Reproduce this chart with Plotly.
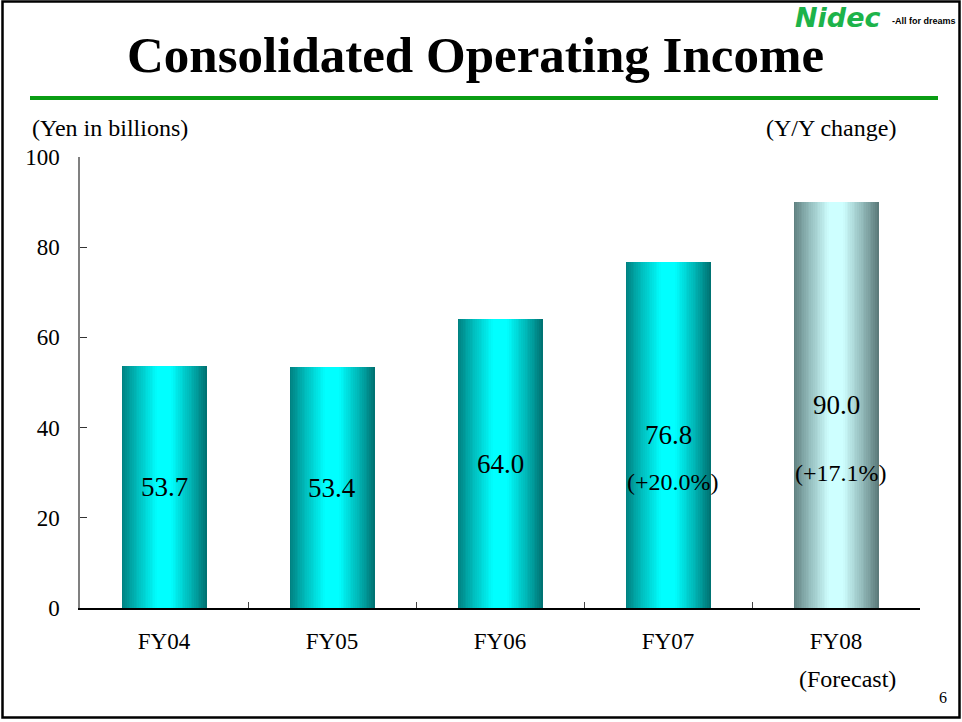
import plotly.graph_objects as go

# ---- data ----
categories = ["FY04", "FY05", "FY06", "FY07", "FY08"]
tick_labels = ["FY04", "FY05", "FY06", "FY07", "FY08"]
values = [53.7, 53.4, 64.0, 76.8, 90.0]
yoy_change = [None, None, None, "(+20.0%)", "(+17.1%)"]
is_forecast = [False, False, False, False, True]
y_ticks = [0, 20, 40, 60, 80, 100]

# ---- geometry (pixels) ----
W, H = 962, 722
L, R, T, B = 80, 920, 157, 608
PW, PH = R - L, B - T


def px(x):
    return (x - L) / PW


def py(y):
    return (B - y) / PH


SERIF = "Liberation Serif, Times New Roman, serif"

fig = go.Figure()

# ---- gradient bars built from thin stripes ----
N = 48
BW = 0.505


def profile(t):
    if t < 0.42:
        s = t / 0.42
    elif t > 0.58:
        s = (1 - t) / 0.42
    else:
        s = 1.0
    return s ** 0.9


def mix(c0, c1, f):
    return "rgb(%d,%d,%d)" % tuple(round(a + (b - a) * f) for a, b in zip(c0, c1))


for i in range(N):
    t = (i + 0.5) / N
    f = profile(t)
    cols = []
    for fc in is_forecast:
        if fc:
            edge = (92, 124, 124) if t < 0.5 else (88, 118, 118)
            cols.append(mix(edge, (206, 255, 255), f))
        else:
            edge = (0, 124, 124) if t < 0.5 else (0, 110, 110)
            cols.append(mix(edge, (0, 255, 255), f))
    fig.add_trace(go.Bar(
        x=categories, y=values,
        offset=-BW / 2 + i * BW / N,
        width=BW / N * 1.15,
        marker=dict(color=cols, line=dict(width=0)),
        hoverinfo="skip", showlegend=False,
    ))

# ---- value labels ----
pct_shift = [0, 0, 0, -47, -68]
for c, v, p, sh in zip(categories, values, yoy_change, pct_shift):
    fig.add_annotation(x=c, y=v / 2, xref="x", yref="y", text=f"{v:.1f}",
                       xanchor="center", yanchor="middle",
                       showarrow=False, font=dict(family=SERIF, size=27, color="black"))
    if p:
        fig.add_annotation(x=c, y=v / 2, xref="x", yref="y", yshift=sh, xshift=5, text=p,
                           xanchor="center", yanchor="middle",
                           showarrow=False, font=dict(family=SERIF, size=24, color="black"))

# ---- texts ----
def note(x, y, text, size, xanchor="center", family=SERIF, color="black"):
    fig.add_annotation(x=px(x), y=py(y), xref="paper", yref="paper", xanchor=xanchor,
                       yanchor="middle", text=text, showarrow=False,
                       font=dict(family=family, size=size, color=color))


note(475, 55, "<b>Consolidated Operating Income</b>", 51)
note(30, 128, "(Yen in billions)", 24, xanchor="left")
note(898, 128, "(Y/Y change)", 24, xanchor="right")
note(847, 679, "(Forecast)", 24)
note(943, 697, "6", 16)
# logo
note(793, 17, "<b><i>Nidec</i></b>", 27, xanchor="left",
     family="DejaVu Sans, Arial, sans-serif", color="#1db34a")
note(958, 21, "<b>-All for dreams</b>", 9, xanchor="right",
     family="Liberation Sans, Arial, sans-serif")

# ---- shapes: slide border and green rule ----
fig.add_shape(type="rect", xref="paper", yref="paper",
              x0=px(2.5), x1=px(959.5), y0=py(717.5), y1=py(1.5),
              line=dict(color="black", width=2.5), layer="below")
fig.add_shape(type="line", xref="paper", yref="paper",
              x0=px(30), x1=px(938), y0=py(98), y1=py(98),
              line=dict(color="#0a9d14", width=4))

fig.update_layout(
    width=W, height=H,
    margin=dict(l=L, r=W - R, t=T, b=H - B),
    paper_bgcolor="white", plot_bgcolor="white",
    barmode="overlay", bargap=0,
    showlegend=False,
    xaxis=dict(
        type="category", tickvals=categories, ticktext=tick_labels,
        tickson="boundaries", ticks="inside", ticklen=6, tickcolor="#444",
        showline=True, linecolor="black", linewidth=2,
        showgrid=False, zeroline=False,
        tickfont=dict(family=SERIF, size=23, color="black"),
        ticklabelstandoff=11,
    ),
    yaxis=dict(
        range=[0, 100], tickvals=y_ticks,
        ticks="inside", ticklen=7, tickcolor="#333",
        showline=True, linecolor="#808080", linewidth=1.5,
        showgrid=False, zeroline=False,
        tickfont=dict(family=SERIF, size=23, color="black"),
        ticklabelstandoff=14,
    ),
)

fig.write_html("out.html", config={"displayModeBar": False},
               post_script="document.body.style.margin='0';")
